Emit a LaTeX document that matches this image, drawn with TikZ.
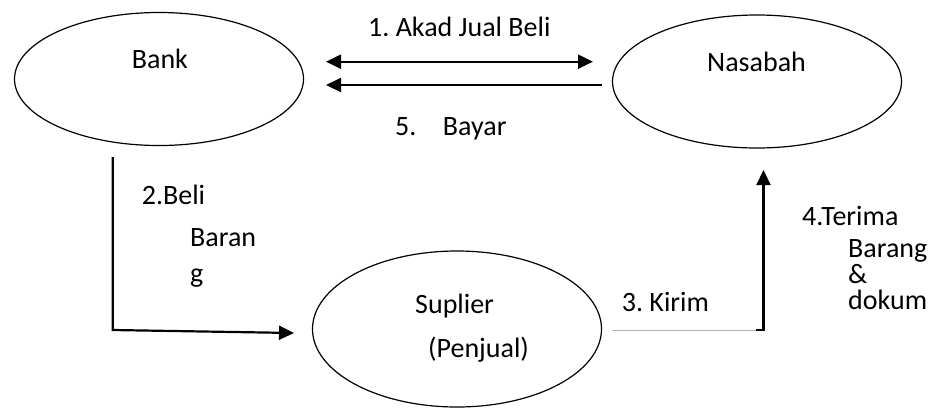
\documentclass[tikz,border=0pt]{standalone}
\usepackage{fontspec}
\setmainfont{Carlito}
\usetikzlibrary{arrows.meta,shapes.geometric}
\begin{document}
\begin{tikzpicture}[x=1pt,y=-1pt,
  oval/.style={draw,ellipse,line width=1.2pt,inner sep=0pt,minimum width=289pt,minimum height=133pt},
  lbl/.style={anchor=base west,inner sep=0pt,font=\fontsize{28}{34}\selectfont\frenchspacing},
  flow/.style={line width=2.2pt,-{Triangle[length=15pt,width=14pt]}},
  thinline/.style={draw=gray!60,line width=0.9pt},
]
\useasboundingbox (0,0) rectangle (930,408);
% ellipses
\node[oval] (bank) at (159,79) {};
\node[oval] (nasabah) at (757,81.5) {};
\node[oval,minimum height=156pt] (suplier) at (457,329) {};
% ellipse labels
\node[lbl] (tbank) at (131.7,68.3) {Bank};
\node[lbl] (tnas) at (707,71) {Nasabah};
\node[lbl] (tsup) at (415,313) {Suplier};
\node[lbl] (tpen) at (428,357) {(Penjual)};
% connector end points
\coordinate (a1l) at (326,61.7);
\coordinate (a1r) at (593,61.7);
\coordinate (a5r) at (601.7,85);
\coordinate (a5l) at (326,85);
\coordinate (b2top) at (112.7,157);
\coordinate (b2c) at (112.7,330);
\coordinate (b2tip) at (294,333);
\coordinate (k1) at (612,330);
\coordinate (k2) at (756,330);
\coordinate (k3) at (763.5,330);
\coordinate (k4) at (763.5,170);
% connectors
\draw[line width=2.2pt,{Triangle[length=15pt,width=14pt]}-{Triangle[length=15pt,width=14pt]}] (a1l) -- (a1r);
\draw[flow] (a5r) -- (a5l);
\draw[flow] (b2top) -- (b2c) -- (b2tip);
\draw[thinline] (k1) -- (k2);
\draw[flow] (k2) -- (k3) -- (k4);
% connector labels
\node[lbl] (t1) at (368,36.7) {1. Akad Jual Beli};
\node[lbl] (t5) at (395,135) {5.\kern 26.5pt Bayar};
\node[lbl] (t2a) at (141.7,204) {2.Beli};
\node[lbl] (t2b) at (190,246) {Baran};
\node[lbl] (t2c) at (190,282) {g};
\node[lbl] (t3) at (621.7,311.7) {3. Kirim};
\node[lbl] (t4a) at (802,225) {4.Terima};
\node[lbl] (t4b) at (848,257) {Barang};
\node[lbl] (t4c) at (848,283) {\&};
\node[lbl] (t4d) at (848,309) {dokum};
\end{tikzpicture}
\end{document}
